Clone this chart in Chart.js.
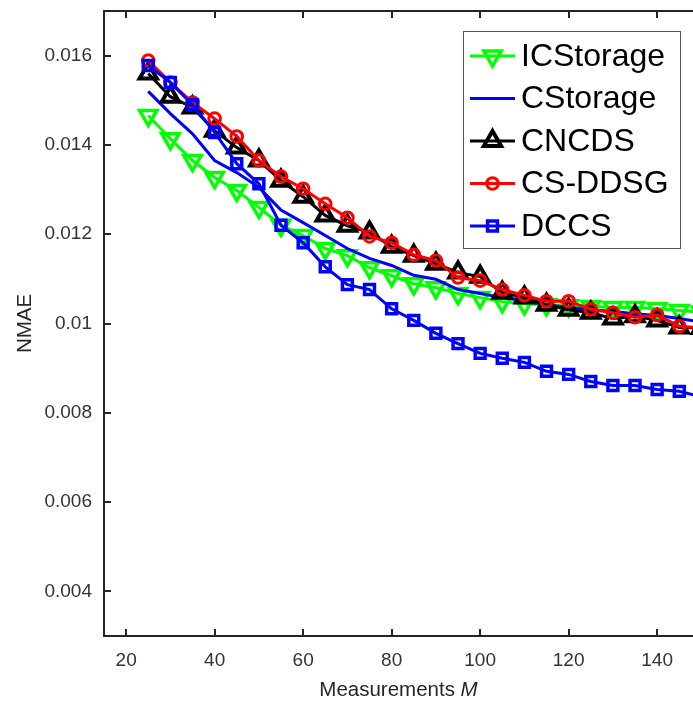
<!DOCTYPE html>
<html><head><meta charset="utf-8">
<script src="https://cdn.jsdelivr.net/npm/chart.js@4/dist/chart.umd.min.js"></script>
<style>html,body{margin:0;padding:0;background:#fff;overflow:hidden}#wrap{width:693px;height:702px}</style>
</head><body><div id="wrap"><canvas id="c" width="693" height="702"></canvas></div>
<script>
const measurements = [25,30,35,40,45,50,55,60,65,70,75,80,85,90,95,100,105,110,115,120,125,130,135,140,145,150];
const icStorage = [0.01466,0.01414,0.01365,0.01327,0.01298,0.0126,0.0122,0.01197,0.01168,0.01152,0.01125,0.01107,0.01089,0.0108,0.01067,0.01058,0.01049,0.01044,0.01042,0.0104,0.01038,0.01036,0.01036,0.01033,0.01029,0.01026];
const cStorage = [0.0152,0.0147,0.01425,0.01365,0.01338,0.01305,0.01254,0.01226,0.01197,0.01168,0.01146,0.0113,0.01108,0.01099,0.01076,0.01067,0.01058,0.01051,0.01042,0.01036,0.01031,0.01027,0.01022,0.01018,0.01011,0.01003];
const cncds = [0.0156,0.01508,0.01484,0.01432,0.01394,0.01365,0.0132,0.01284,0.01242,0.01219,0.01204,0.01172,0.01152,0.01134,0.01114,0.01105,0.01069,0.01058,0.01042,0.01031,0.01024,0.01011,0.01016,0.01007,0.00991,0.0099];
const csDdsg = [0.01589,0.0154,0.01495,0.01459,0.01419,0.01365,0.01329,0.01302,0.01268,0.01237,0.01195,0.01181,0.01154,0.01141,0.01103,0.01096,0.01076,0.01063,0.0105,0.0105,0.01032,0.01024,0.01014,0.01019,0.00994,0.0099];
const dccs = [0.01578,0.0154,0.0149,0.01428,0.01358,0.01313,0.0122,0.01181,0.01127,0.01087,0.01076,0.01033,0.01007,0.00978,0.00955,0.00933,0.00922,0.00913,0.00893,0.00886,0.0087,0.00861,0.00861,0.00852,0.00848,0.00836];
const seriesNames = ['ICStorage','CStorage','CNCDS','CS-DDSG','DCCS'];
const xTicks = [20,40,60,80,100,120,140];
const yTicks = [0.004,0.006,0.008,0.01,0.012,0.014,0.016];
const yTickLabels = ['0.004','0.006','0.008','0.01','0.012','0.014','0.016'];
const xTitle = 'Measurements ';
const xTitleVar = 'M';
const yTitle = 'NMAE';

const FONT = "'Liberation Sans', Arial, Helvetica, sans-serif";
const AXC = '#262626';
const pts = arr => measurements.map((m, i) => ({x: m, y: arr[i]}));

function ds(label, arr, color, style, radius, rot, bw, order) {
  return {label, data: pts(arr), borderColor: color, backgroundColor: 'rgba(0,0,0,0)',
    borderWidth: 3, tension: 0, pointStyle: style, pointRadius: radius, pointRotation: rot,
    pointBorderColor: color, pointBackgroundColor: 'rgba(0,0,0,0)', pointBorderWidth: bw,
    pointHoverRadius: radius, order};
}

const datasets = [
  ds(seriesNames[0], icStorage, '#00ff00', 'triangle', 10, 180, 3.5, 4),
  ds(seriesNames[1], cStorage, '#0000ff', 'circle', 0, 0, 0, 3),
  ds(seriesNames[2], cncds, '#000000', 'triangle', 10, 0, 4, 2),
  ds(seriesNames[3], csDdsg, '#ff0000', 'circle', 5.8, 0, 3, 1),
  ds(seriesNames[4], dccs, '#0000ff', 'rect', 7, 0, 3.5, 0)
];

const framePlugin = {
  id: 'frame',
  beforeDatasetsDraw(chart) {
    const {ctx, chartArea: a, scales: {x, y}} = chart;
    ctx.save();
    ctx.strokeStyle = AXC; ctx.lineWidth = 2; ctx.lineCap = 'butt';
    ctx.beginPath();
    ctx.moveTo(a.right + 2, a.top); ctx.lineTo(a.left, a.top); ctx.lineTo(a.left, a.bottom); ctx.lineTo(a.right + 2, a.bottom);
    ctx.stroke();
    ctx.beginPath();
    xTicks.forEach(v => { const p = Math.round(x.getPixelForValue(v));
      ctx.moveTo(p, a.bottom); ctx.lineTo(p, a.bottom - 7);
      ctx.moveTo(p, a.top); ctx.lineTo(p, a.top + 7); });
    yTicks.forEach(v => { const p = Math.round(y.getPixelForValue(v));
      ctx.moveTo(a.left, p); ctx.lineTo(a.left + 7, p); });
    ctx.stroke();
    // x title with italic variable
    ctx.fillStyle = AXC; ctx.textBaseline = 'middle';
    ctx.font = '20.5px ' + FONT;
    const w1 = ctx.measureText(xTitle).width;
    ctx.font = 'italic 20.5px ' + FONT;
    const w2 = ctx.measureText(xTitleVar).width;
    const cx = (a.left + a.right) / 2, ty = 690;
    let sx = cx - (w1 + w2) / 2;
    ctx.textAlign = 'left';
    ctx.font = '20.5px ' + FONT; ctx.fillText(xTitle, sx, ty);
    ctx.font = 'italic 20.5px ' + FONT; ctx.fillText(xTitleVar, sx + w1, ty);
    // y title
    ctx.save();
    ctx.translate(25, (a.top + a.bottom) / 2);
    ctx.rotate(-Math.PI / 2);
    ctx.textAlign = 'center';
    ctx.font = '20.5px ' + FONT;
    ctx.fillText(yTitle, 0, 0);
    ctx.restore();
    ctx.restore();
  }
};

const legendPlugin = {
  id: 'boxLegend',
  afterDraw(chart) {
    const {ctx} = chart;
    const bx = 463.5, by = 31.5, bw = 217, bh = 217;
    ctx.save();
    ctx.fillStyle = '#ffffff';
    ctx.fillRect(bx, by, bw, bh);
    ctx.strokeStyle = '#555555'; ctx.lineWidth = 1;
    ctx.strokeRect(bx, by, bw, bh);
    chart.data.datasets.forEach((d, i) => {
      const yy = 56 + i * 42.5;
      ctx.strokeStyle = d.borderColor; ctx.lineWidth = 3;
      ctx.beginPath(); ctx.moveTo(470, yy); ctx.lineTo(515, yy); ctx.stroke();
      if (d.pointRadius > 0) {
        ctx.fillStyle = 'rgba(0,0,0,0)';
        ctx.lineWidth = d.pointBorderWidth;
        Chart.helpers.drawPoint(ctx, {pointStyle: d.pointStyle, rotation: d.pointRotation,
          radius: d.pointRadius, borderWidth: d.pointBorderWidth}, 492.5, yy);
      }
      ctx.fillStyle = '#000000';
      ctx.font = '32px ' + FONT;
      ctx.textAlign = 'left'; ctx.textBaseline = 'middle';
      ctx.fillText(d.label, 521, yy + 1);
    });
    ctx.restore();
  }
};

new Chart(document.getElementById('c'), {
  type: 'line',
  data: {datasets},
  options: {
    responsive: false, animation: false, devicePixelRatio: 1,
    layout: {autoPadding: false, padding: {top: 11, left: 0, right: 0, bottom: 0}},
    plugins: {legend: {display: false}, tooltip: {enabled: false}},
    scales: {
      x: {type: 'linear', min: 15, max: 148.1,
        grid: {display: false, drawTicks: false}, border: {display: false},
        afterBuildTicks: s => { s.ticks = xTicks.map(v => ({value: v})); },
        afterFit: s => { s.height = 66; s.paddingLeft = 0; s.paddingRight = 0; },
        ticks: {padding: 13, color: '#333333', font: {family: FONT, size: 19}, maxRotation: 0, autoSkip: false,
          callback: v => String(v)}
      },
      y: {type: 'linear', min: 0.003, max: 0.017,
        grid: {display: false, drawTicks: false}, border: {display: false},
        afterBuildTicks: s => { s.ticks = yTicks.map(v => ({value: v})); },
        afterFit: s => { s.width = 104; s.paddingTop = 0; s.paddingBottom = 0; },
        ticks: {padding: 12, color: '#333333', font: {family: FONT, size: 19}, autoSkip: false,
          callback: (v, i) => yTickLabels[i]}
      }
    }
  },
  plugins: [framePlugin, legendPlugin]
});
</script></body></html>
